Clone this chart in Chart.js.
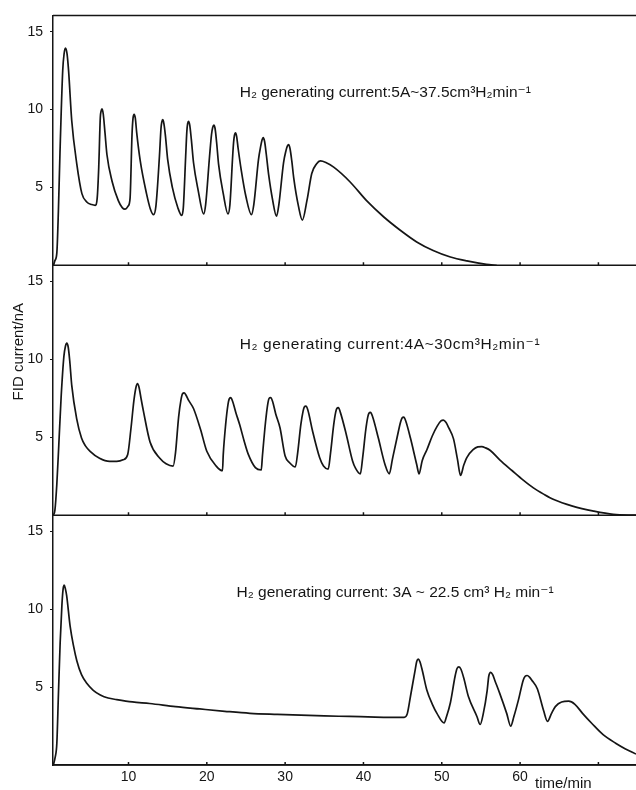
<!DOCTYPE html>
<html>
<head>
<meta charset="utf-8">
<script src="https://cdn.jsdelivr.net/npm/chart.js@4.4.1/dist/chart.umd.min.js"></script>
<style>
  html, body { margin: 0; padding: 0; background: #fff; }
  #chart { display: block; }
</style>
</head>
<body>
<canvas id="chart" width="636" height="790"></canvas>
<script>
// FID response, 5 A generating current (top panel)
const time5A = [0.42, 0.6, 0.85, 1.05, 1.25, 1.6, 1.78, 1.95, 2.15, 2.35, 2.75, 3.4, 4.05, 4.7, 5.3, 5.75,
  6.0, 6.2, 6.4, 6.5, 6.62, 6.78, 7.0, 7.25, 7.9, 8.7, 9.2, 9.55, 9.95,
  10.2, 10.45, 10.58, 10.72, 10.87, 11.05, 11.5, 12.3, 12.8, 13.2,
  13.5, 13.95, 14.15, 14.25, 14.38, 14.52, 14.72, 15.0, 15.6, 16.3, 16.8,
  17.0, 17.3, 17.45, 17.55, 17.67, 17.82, 18.02, 18.3, 18.9, 19.6,
  19.85, 20.35, 20.6, 20.75, 20.9, 21.05, 21.25, 21.5, 22.1, 22.7,
  22.95, 23.3, 23.42, 23.53, 23.66, 23.8, 24.0, 24.4, 25.0, 25.7,
  26.0, 26.6, 26.9, 27.05, 27.2, 27.38, 27.6, 27.9, 28.4, 28.9,
  29.2, 29.8, 30.1, 30.28, 30.45, 30.62, 30.85, 31.1, 31.7, 32.2,
  32.8, 33.4, 34.0, 34.5, 35.2, 36.2, 38.3, 40.4, 42.6, 44.7, 46.8, 48.9, 51.1, 53.2, 55.7, 57.0];
const fid5A = [0, 0.3, 0.8, 3.5, 7.2, 12.5, 13.6, 13.95, 13.6, 12.5, 9.3, 6.5, 4.6, 4.05, 3.9, 3.85,
  4.3, 6.3, 9.5, 9.9, 10.05, 9.7, 8.5, 7.1, 5.4, 4.15, 3.7, 3.6, 3.8,
  4.3, 8.4, 9.45, 9.7, 9.45, 8.5, 6.7, 4.6, 3.6, 3.25,
  3.8, 7.0, 8.8, 9.2, 9.35, 9.1, 8.3, 6.8, 5.0, 3.7, 3.2,
  3.7, 7.0, 8.6, 9.1, 9.25, 9.0, 8.1, 6.6, 4.8, 3.3,
  3.9, 7.0, 8.4, 8.85, 9.0, 8.8, 7.9, 6.5, 4.6, 3.3,
  3.9, 7.0, 7.9, 8.35, 8.5, 8.3, 7.5, 6.1, 4.4, 3.25,
  3.9, 6.8, 7.7, 8.05, 8.2, 7.95, 7.1, 5.8, 4.2, 3.15,
  3.9, 6.6, 7.35, 7.65, 7.75, 7.5, 6.7, 5.6, 3.8, 2.9,
  4.2, 5.9, 6.5, 6.7, 6.6, 6.3, 5.35, 4.15, 3.1, 2.25, 1.5, 0.95, 0.53, 0.28, 0.06, 0];

// FID response, 4 A generating current (middle panel)
const time4A = [0.4, 0.6, 0.85, 1.1, 1.4, 1.75, 1.95, 2.12, 2.3, 2.5, 2.75, 3.38, 4.0, 4.5, 5.1, 6.3, 7.6, 8.5, 9.3, 9.9,
  10.3, 10.7, 10.95, 11.15, 11.35, 11.6, 11.9, 12.75, 14.0, 14.8, 15.7,
  16.0, 16.4, 16.7, 16.9, 17.1, 17.35, 17.7, 18.3, 19.2, 20.0, 21.2, 22.0,
  22.1, 22.4, 22.7, 22.85, 23.05, 23.3, 23.7, 24.2, 24.8, 25.3, 26.2, 26.95,
  27.1, 27.5, 27.8, 27.95, 28.15, 28.4, 28.8, 29.35, 30.0, 30.6, 31.3,
  31.6, 32.0, 32.3, 32.45, 32.65, 32.9, 33.5, 34.4, 34.9, 35.5,
  35.8, 36.2, 36.45, 36.6, 36.8, 37.05, 37.8, 38.6, 39.0, 39.6,
  39.9, 40.3, 40.55, 40.7, 40.9, 41.15, 41.9, 42.75, 43.3,
  43.7, 44.3, 44.75, 44.95, 45.15, 45.4, 46.0, 46.8, 47.1,
  47.5, 48.1, 48.8, 49.4, 49.9, 50.2, 50.55, 50.9, 51.5, 52.0, 52.4,
  52.8, 53.2, 54.0, 54.6, 55.1, 55.6, 56.2, 57.4, 59.0, 60.4, 61.7, 63.0, 64.3, 66.7, 69.4, 71.9, 74.8];
const fid4A = [0, 0.3, 2.0, 4.5, 7.6, 10.2, 10.85, 11.05, 10.8, 9.9, 8.35, 6.2, 4.95, 4.45, 4.1, 3.65, 3.45, 3.45, 3.55, 3.9,
  5.5, 7.4, 8.2, 8.45, 8.2, 7.5, 6.7, 4.7, 3.65, 3.3, 3.15,
  4.0, 6.3, 7.4, 7.8, 7.85, 7.7, 7.35, 6.85, 5.5, 4.1, 3.15, 2.85,
  3.9, 5.8, 7.1, 7.45, 7.55, 7.3, 6.6, 5.8, 4.7, 3.9, 3.05, 2.9,
  3.8, 6.0, 7.2, 7.5, 7.55, 7.3, 6.5, 5.6, 3.8, 3.35, 3.1,
  4.0, 5.8, 6.7, 6.95, 7.0, 6.75, 5.4, 3.7, 3.15, 2.95,
  4.0, 5.8, 6.6, 6.85, 6.9, 6.6, 5.2, 3.5, 3.0, 2.65,
  3.7, 5.5, 6.3, 6.55, 6.6, 6.35, 4.95, 3.25, 2.65,
  3.6, 5.0, 6.0, 6.25, 6.3, 6.05, 4.95, 3.25, 2.65,
  3.5, 4.2, 5.1, 5.7, 6.05, 6.1, 5.95, 5.6, 4.9, 3.6, 2.55,
  3.2, 3.7, 4.2, 4.38, 4.4, 4.32, 4.15, 3.55, 2.85, 2.25, 1.75, 1.35, 1.0, 0.58, 0.26, 0.05, 0];

// FID response, 3 A generating current (bottom panel)
const time3A = [0.4, 0.64, 0.85, 1.05, 1.27, 1.5, 1.65, 1.8, 1.95, 2.1, 2.55, 3.0, 3.4, 4.0, 4.67, 5.5, 6.4, 7.4, 8.5, 10.5, 12.7,
  16.0, 19.1, 22.3, 25.5, 29.0, 32.0, 35.0, 38.2, 41.5, 45.2,
  45.6, 46.0, 46.6, 46.8, 47.0, 47.2, 47.5, 48.1, 48.8, 49.4, 50.3,
  50.6, 51.1, 51.7, 51.95, 52.2, 52.45, 52.8, 53.4, 54.5, 54.9,
  55.3, 55.8, 56.0, 56.25, 56.5, 56.8, 57.4, 58.3, 58.8,
  59.2, 59.8, 60.4, 60.65, 60.9, 61.2, 61.5, 62.2, 63.0, 63.5,
  64.0, 64.5, 65.3, 66.2, 67.0, 68.0, 69.2, 70.6, 72.2, 73.4, 74.8];
const fid3A = [0, 0.5, 1.4, 4.5, 7.8, 10.3, 11.3, 11.55, 11.3, 10.9, 8.9, 7.6, 6.7, 5.8, 5.25, 4.8, 4.5, 4.3, 4.2, 4.05, 3.95,
  3.75, 3.6, 3.45, 3.32, 3.25, 3.2, 3.15, 3.12, 3.08, 3.06,
  3.3, 4.4, 6.1, 6.65, 6.8, 6.65, 6.1, 4.8, 3.9, 3.3, 2.7,
  3.1, 4.0, 5.7, 6.2, 6.3, 6.15, 5.6, 4.4, 3.1, 2.6,
  3.3, 4.8, 5.7, 5.95, 5.8, 5.4, 4.6, 3.3, 2.5,
  3.1, 4.2, 5.45, 5.7, 5.75, 5.65, 5.45, 4.9, 3.5, 2.8,
  3.3, 3.75, 4.05, 4.1, 3.9, 3.3, 2.65, 1.95, 1.4, 1.05, 0.7];

const yTicks = [5, 10, 15];
const xTicks = [10, 20, 30, 40, 50, 60, 70];
const xTickLabels = ['10', '20', '30', '40', '50', '60', ''];
const panelNotes = [
  'H₂ generating current:5A~37.5cm³H₂min⁻¹',
  'H₂ generating current:4A~30cm³H₂min⁻¹',
  'H₂ generating current: 3A ~ 22.5 cm³ H₂ min⁻¹'
];
const yTitle = 'FID current/nA';
const xTitle = 'time/min';

const ink = '#151515';
const fontFamily = "'Liberation Sans', 'DejaVu Sans', sans-serif";
Chart.defaults.font.family = fontFamily;
Chart.defaults.color = ink;

function points(t, v) {
  return t.map((x, i) => ({ x: x, y: v[i] }));
}

function trace(t, v, axis) {
  return {
    data: points(t, v),
    yAxisID: axis,
    borderColor: ink,
    borderWidth: 1.7,
    pointRadius: 0,
    fill: false,
    cubicInterpolationMode: 'monotone'
  };
}

// one panel = one y axis, stacked on the left; higher weight sits on top
function panelAxis(weight) {
  return {
    type: 'linear',
    position: 'left',
    stack: 'panels',
    stackWeight: 1,
    weight: weight,
    min: 0,
    max: 16.05,
    afterBuildTicks: s => { s.ticks = yTicks.map(v => ({ value: v })); },
    afterFit: s => { s.width = 53; },
    ticks: { font: { size: 14 }, padding: 7, color: ink },
    grid: { drawOnChartArea: false, tickLength: 3, color: ink, lineWidth: 1 },
    border: { color: ink, width: 1.5 }
  };
}

// panel frames, inner time ticks and the text
const framePlugin = {
  id: 'frame',
  afterDatasetsDraw(chart, args, opts) {
    const ctx = chart.ctx;
    const x = chart.scales.x;
    const area = chart.chartArea;
    const axes = ['y1', 'y2', 'y3'].map(id => chart.scales[id]);
    ctx.save();
    ctx.strokeStyle = ink;
    ctx.lineWidth = 1.5;
    ctx.beginPath();
    ctx.moveTo(area.left, axes[0].top);
    ctx.lineTo(area.right, axes[0].top);
    axes.forEach(s => {
      const y0 = s.getPixelForValue(0);
      ctx.moveTo(area.left, y0);
      ctx.lineTo(area.right, y0);
      xTicks.forEach(v => {
        const px = x.getPixelForValue(v);
        ctx.moveTo(px, y0);
        ctx.lineTo(px, y0 - 3);
      });
    });
    ctx.stroke();

    ctx.fillStyle = ink;
    ctx.font = '15.5px ' + fontFamily;
    ctx.textAlign = 'left';
    ctx.textBaseline = 'alphabetic';
    axes.forEach((s, i) => {
      const p = opts.notes[i];
      ctx.letterSpacing = p.spacing + 'px';
      ctx.fillText(panelNotes[i], x.getPixelForValue(p.x), s.getPixelForValue(p.y));
    });
    ctx.letterSpacing = '0px';

    ctx.font = '15px ' + fontFamily;
    ctx.textBaseline = 'middle';
    ctx.fillText(xTitle, x.getPixelForValue(opts.xTitleAt), x.top + 19);

    ctx.save();
    ctx.translate(opts.yTitleX, axes[1].getPixelForValue(opts.yTitleAt));
    ctx.rotate(-Math.PI / 2);
    ctx.textAlign = 'center';
    ctx.fillText(yTitle, 0, 0);
    ctx.restore();
    ctx.restore();
  }
};

new Chart(document.getElementById('chart'), {
  type: 'line',
  data: {
    datasets: [
      trace(time5A, fid5A, 'y1'),
      trace(time4A, fid4A, 'y2'),
      trace(time3A, fid3A, 'y3')
    ]
  },
  options: {
    responsive: false,
    animation: false,
    devicePixelRatio: 1,
    layout: { padding: { top: 14, left: 0, right: 0, bottom: 0 } },
    plugins: {
      legend: { display: false },
      tooltip: { enabled: false },
      frame: {
        notes: [
          { x: 24.2, y: 10.8, spacing: 0 },
          { x: 24.2, y: 10.7, spacing: 0.6 },
          { x: 23.8, y: 10.8, spacing: 0 }
        ],
        xTitleAt: 61.9,
        yTitleAt: 10.5,
        yTitleX: 19
      }
    },
    scales: {
      x: {
        type: 'linear',
        min: 0.36,
        max: 74.8,
        afterBuildTicks: s => { s.ticks = xTicks.map(v => ({ value: v })); },
        afterFit: s => { s.height = 25; },
        ticks: {
          font: { size: 14 },
          padding: 4,
          maxRotation: 0,
          autoSkip: false,
          color: ink,
          callback: (v, i) => xTickLabels[i]
        },
        grid: { drawOnChartArea: false, drawTicks: false },
        border: { color: ink, width: 1.5 }
      },
      y1: panelAxis(3),
      y2: panelAxis(2),
      y3: panelAxis(1)
    }
  },
  plugins: [framePlugin]
});
</script>
</body>
</html>
